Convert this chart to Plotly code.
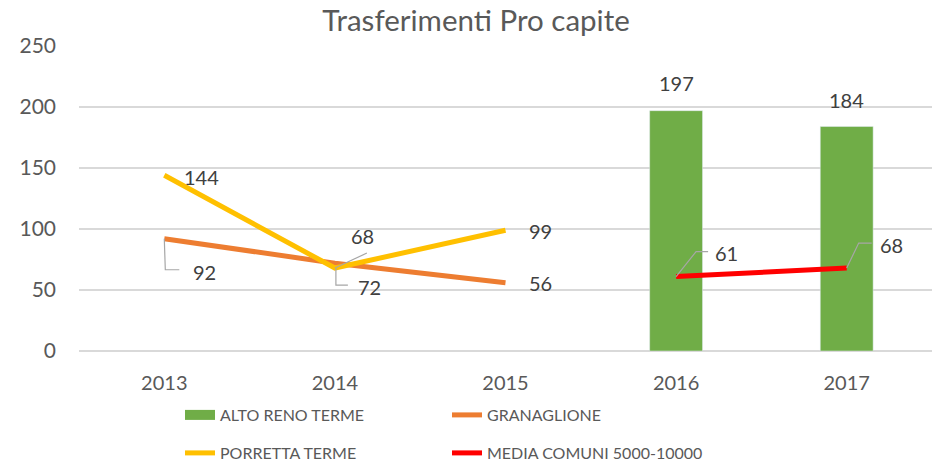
import plotly.graph_objects as go

YEARS = ["2013", "2014", "2015", "2016", "2017"]
ALTO_RENO = [None, None, None, 197, 184]
GRANAGLIONE = [92, 72, 56, None, None]
PORRETTA = [144, 68, 99, None, None]
MEDIA = [None, None, None, 61, 68]

GREEN = "#70AD47"
ORANGE = "#ED7D31"
YELLOW = "#FFC000"
RED = "#FF0000"
GRID = "#D9D9D9"
TEXT = "#595959"
LABEL = "#404040"
LEADER = "#A6A6A6"
FONT = "Lato"

# the page body adds an 8px margin, so the figure is a bit smaller than the window
W, H = 924, 453

fig = go.Figure()
fig.add_trace(go.Bar(x=YEARS, y=ALTO_RENO, marker_color=GREEN, width=0.31, showlegend=False))
fig.add_trace(go.Scatter(x=YEARS, y=GRANAGLIONE, mode="lines", line=dict(color=ORANGE, width=5),
                         name="GRANAGLIONE", legend="legend", legendrank=2))
fig.add_trace(go.Scatter(x=YEARS, y=PORRETTA, mode="lines", line=dict(color=YELLOW, width=5),
                         name="PORRETTA TERME", legend="legend2", legendrank=1))
fig.add_trace(go.Scatter(x=YEARS, y=MEDIA, mode="lines", line=dict(color=RED, width=5),
                         name="MEDIA COMUNI 5000-10000", legend="legend2", legendrank=2))
# legend proxy so the bar gets a wide swatch like the original
fig.add_trace(go.Scatter(x=[YEARS[0]], y=[None], mode="lines", line=dict(color=GREEN, width=14),
                         name="ALTO RENO TERME", legend="legend", legendrank=1))

# data labels: (series, year index, xshift, yshift, leader path in px or None)
labels = [
    (PORRETTA, 0, 37, -2, None),
    (GRANAGLIONE, 0, 40, -33, "M0,0 L1,-31 L15,-31"),
    (PORRETTA, 1, 28, 32, "M0,0 L32,15"),
    (GRANAGLIONE, 1, 35, -24, "M1,-5 L1,-22 L13,-22"),
    (PORRETTA, 2, 35, -1, None),
    (GRANAGLIONE, 2, 35, 0, None),
    (ALTO_RENO, 3, 0, 28, None),
    (ALTO_RENO, 4, 0, 27, None),
    (MEDIA, 3, 50, 24, "M0,0 L20,25 L32,25"),
    (MEDIA, 4, 45, 23, "M0,0 L12,25 L25,25"),
]
for series, i, dx, dy, path in labels:
    fig.add_annotation(x=i, y=series[i], text=str(series[i]), showarrow=False,
                       xshift=dx, yshift=dy, font=dict(family=FONT, size=20, color=LABEL))
    if path:
        fig.add_shape(type="path", xsizemode="pixel", ysizemode="pixel",
                      xanchor=i, yanchor=series[i], path=path,
                      line=dict(color=LEADER, width=1.2))

legend_style = dict(orientation="h", xref="container", yref="container", x=172 / W,
                    xanchor="left", yanchor="middle", entrywidth=222, entrywidthmode="pixels",
                    font=dict(family=FONT, size=16, color=TEXT), bgcolor="rgba(0,0,0,0)")

fig.update_layout(
    width=W, height=H,
    paper_bgcolor="white", plot_bgcolor="white",
    margin=dict(l=71, r=0, t=38, b=110, autoexpand=False),
    title=dict(text="Trasferimenti Pro capite", x=468 / W, xref="container", y=1 - 13 / H,
               yref="container", xanchor="center", yanchor="middle",
               font=dict(family=FONT, size=29.5, color=TEXT)),
    barmode="overlay",
    legend=dict(legend_style, y=1 - 407 / H),
    legend2=dict(legend_style, y=1 - 445 / H),
    font=dict(family=FONT, color=TEXT),
)
fig.update_xaxes(type="category", range=[-0.5, 4.5], showgrid=False, showline=False, ticks="",
                 tickfont=dict(family=FONT, size=20, color=TEXT), ticklabelstandoff=18)
fig.update_yaxes(range=[0, 250], dtick=50, showgrid=True, gridcolor=GRID, gridwidth=1.5,
                 zeroline=True, zerolinecolor=GRID, zerolinewidth=1.5, showline=False,
                 tickfont=dict(family=FONT, size=21, color=TEXT), ticklabelstandoff=22)

fig.write_html("out.html")
